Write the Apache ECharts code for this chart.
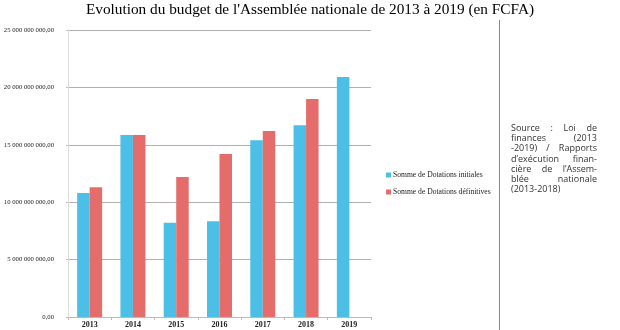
<!DOCTYPE html>
<html><head><meta charset="utf-8">
<script src="https://cdn.jsdelivr.net/npm/echarts@6/dist/echarts.min.js"></script>
<style>html,body{margin:0;padding:0;background:#fff}#c{width:620px;height:330px}</style>
</head><body><div id="c"></div>
<script>
const categories = ['2013','2014','2015','2016','2017','2018','2019'];
const initiales = [10.8e9, 15.85e9, 8.2e9, 8.35e9, 15.4e9, 16.7e9, 20.9e9];
const definitives = [11.3e9, 15.85e9, 12.2e9, 14.2e9, 16.2e9, 19.0e9, null];
const seriesNames = ['Somme de Dotations initiales', 'Somme de Dotations définitives'];
const sourceLines = [
  ['Source', ':', 'Loi', 'de'],
  ['finances', '(2013'],
  ['-2019)', '/', 'Rapports'],
  ['d\u2019exécution', 'finan-'],
  ['cière', 'de', 'l\u2019Assem-'],
  ['blée', 'nationale'],
  ['(2013-2018)']
];

function fmt(v){
  const s = Math.round(v).toString().replace(/\B(?=(\d{3})+(?!\d))/g,' ');
  return s + ',00';
}

const chart = echarts.init(document.getElementById('c'));
const graphics = [];
const xL = 511, xR = 597, y0 = 124, lh = 10.2;
const font = '9px "Open Sans", sans-serif';
const ctx = document.createElement('canvas').getContext('2d');
ctx.font = font;
sourceLines.forEach((words, i) => {
  const y = y0 + i*lh;
  const n = words.length;
  if (n === 1) {
    graphics.push({type:'text', x:xL, y:y, style:{text:words[0], font:font, fill:'#333', align:'left', verticalAlign:'top'}});
    return;
  }
  const widths = words.map(w => ctx.measureText(w).width);
  const total = widths.reduce((a,b)=>a+b,0);
  const gap = (xR - xL - total)/(n-1);
  let x = xL;
  words.forEach((w, j) => {
    graphics.push({type:'text', x:x, y:y, style:{text:w, font:font, fill:'#333', align:'left', verticalAlign:'top'}});
    x += widths[j] + gap;
  });
});
graphics.push({type:'line', shape:{x1:499.5,y1:20,x2:499.5,y2:330}, style:{stroke:'#888', lineWidth:1}});

chart.setOption({
  animation:false,
  title:{text:'Evolution du budget de l\'Assemblée nationale de 2013 à 2019 (en FCFA)', left:'center', top:-3,
    textStyle:{fontFamily:'Liberation Serif', fontSize:15.3, fontWeight:'normal', color:'#000'}},
  legend:{orient:'vertical', left:381, top:166, itemWidth:5, itemHeight:5, itemGap:9, icon:'rect',
    textStyle:{fontFamily:'Liberation Serif', fontSize:7.6, color:'#222', padding:[0,0,0,-3]}, data:seriesNames},
  grid:{left:68, right:249, top:30, bottom:13, containLabel:false},
  xAxis:{type:'category', data:categories,
    axisLine:{lineStyle:{color:'#bbb'}},
    axisTick:{show:true, length:3, lineStyle:{color:'#bbb'}},
    axisLabel:{fontFamily:'Liberation Serif', fontSize:8, fontWeight:'bold', color:'#222', margin:4}},
  yAxis:{type:'value', min:0, max:25e9, interval:5e9,
    axisLine:{show:true, lineStyle:{color:'#ddd'}},
    axisTick:{show:true, length:2, lineStyle:{color:'#bbb'}},
    splitLine:{lineStyle:{color:'#b0b0b0'}},
    axisLabel:{fontFamily:'Liberation Serif', fontSize:6.7, color:'#222', margin:14, formatter:fmt}},
  series:[
    {name:seriesNames[0], type:'bar', data:initiales, barWidth:12.5, barGap:'0%', itemStyle:{color:'#4bbfe6'}},
    {name:seriesNames[1], type:'bar', data:definitives, barWidth:12.5, barGap:'0%', itemStyle:{color:'#e46d6b'}}
  ],
  graphic:graphics
});
</script></body></html>
